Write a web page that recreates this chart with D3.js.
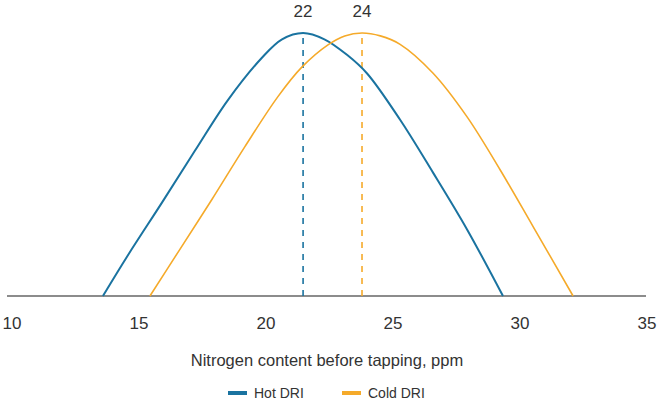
<!DOCTYPE html>
<html><head><meta charset="utf-8">
<script src="https://cdn.jsdelivr.net/npm/d3@7"></script>
<style>body{margin:0;background:#fff}svg{display:block}text{font-family:"Liberation Sans",Arial,sans-serif}</style>
</head><body><svg id="c" width="659" height="402"></svg>
<script>
const xTicks = [10, 15, 20, 25, 30, 35];
const hotX = [13.58, 14.57, 15.91, 17.20, 18.50, 19.84, 20.63, 21.46, 22.30, 23.20, 23.98, 25.28, 26.57, 27.91, 29.33];
const hotY = [0, 15.6, 35.6, 55.2, 74.5, 90.6, 97.6, 100, 97.6, 91.6, 84.6, 67.0, 47.0, 25.4, 0];
const coldX = [15.43, 16.54, 17.87, 19.17, 20.47, 21.42, 22.44, 23.10, 23.78, 24.50, 25.28, 26.57, 27.91, 29.21, 30.51, 32.09];
const coldY = [0, 16.7, 36.7, 56.8, 75.8, 87.1, 95.5, 98.9, 100, 98.9, 95.7, 84.8, 68.2, 48.1, 26.5, 0];
const peaks = [{pos: 21.46, label: "22", name: "Hot DRI"}, {pos: 23.78, label: "24", name: "Cold DRI"}];
const seriesNames = ["Hot DRI", "Cold DRI"];
const colors = {"Hot DRI": "#1a73a0", "Cold DRI": "#f5aa2a"};

const svg = d3.select("#c");
const x = d3.scaleLinear().domain([10, 35]).range([12, 647]);
const y = d3.scaleLinear().domain([0, 100]).range([296, 33]);

svg.append("line").attr("x1", 7).attr("x2", 646).attr("y1", y(0)).attr("y2", y(0))
  .attr("stroke", "#666").attr("stroke-width", 1.5);

svg.selectAll("text.tick").data(xTicks).enter().append("text")
  .attr("class", "tick").attr("x", d => x(d)).attr("y", 329)
  .attr("text-anchor", "middle").attr("font-size", 17).attr("fill", "#333").text(d => d);

svg.append("text").attr("x", 327).attr("y", 366).attr("text-anchor", "middle")
  .attr("font-size", 16.5).attr("fill", "#333").text("Nitrogen content before tapping, ppm");

const line = d3.line().x(d => x(d[0])).y(d => y(d[1])).curve(d3.curveCatmullRom.alpha(0.5));
const series = [
  {name: "Hot DRI", pts: d3.zip(hotX, hotY), w: 2},
  {name: "Cold DRI", pts: d3.zip(coldX, coldY), w: 1.6}
];

svg.selectAll("line.peak").data(peaks).enter().append("line")
  .attr("x1", d => x(d.pos)).attr("x2", d => x(d.pos))
  .attr("y1", y(0)).attr("y2", y(100))
  .attr("stroke", d => colors[d.name]).attr("stroke-width", 1.6)
  .attr("stroke-dasharray", "6,6");

svg.selectAll("path.s").data(series).enter().append("path")
  .attr("d", d => line(d.pts)).attr("fill", "none")
  .attr("stroke", d => colors[d.name]).attr("stroke-width", d => d.w);

svg.selectAll("text.peak").data(peaks).enter().append("text")
  .attr("x", d => x(d.pos)).attr("y", 17).attr("text-anchor", "middle")
  .attr("font-size", 17).attr("fill", "#333").text(d => d.label);

const legX = [228, 342];
const lg = svg.selectAll("g.leg").data(seriesNames).enter().append("g")
  .attr("transform", (d, i) => `translate(${legX[i]},393)`);
lg.append("line").attr("x1", 0).attr("x2", 19).attr("y1", 0).attr("y2", 0)
  .attr("stroke", d => colors[d]).attr("stroke-width", 4);
lg.append("text").attr("x", 26).attr("y", 5).attr("font-size", 14).attr("fill", "#333").text(d => d);
</script></body></html>
